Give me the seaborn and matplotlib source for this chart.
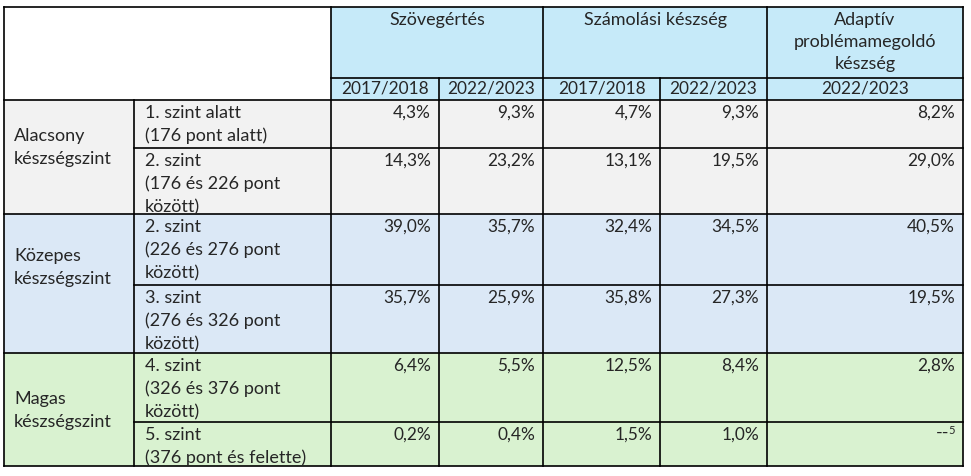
import matplotlib
matplotlib.use("Agg")
import matplotlib.pyplot as plt
import seaborn as sns
from matplotlib.patches import Rectangle

# --- data ---
skills = ["Szövegértés", "Számolási készség", "Adaptív\nproblémamegoldó\nkészség"]
years = ["2017/2018", "2022/2023", "2017/2018", "2022/2023", "2022/2023"]
groups = ["Alacsony\nkészségszint", "Közepes\nkészségszint", "Magas\nkészségszint"]
levels = [
    "1. szint alatt\n(176 pont alatt)",
    "2. szint\n(176 és 226 pont\nközött)",
    "2. szint\n(226 és 276 pont\nközött)",
    "3. szint\n(276 és 326 pont\nközött)",
    "4. szint\n(326 és 376 pont\nközött)",
    "5. szint\n(376 pont és felette)",
]
level_group = [0, 0, 1, 1, 2, 2]
szoveg_2017 = [4.3, 14.3, 39.0, 35.7, 6.4, 0.2]
szoveg_2022 = [9.3, 23.2, 35.7, 25.9, 5.5, 0.4]
szamol_2017 = [4.7, 13.1, 32.4, 35.8, 12.5, 1.5]
szamol_2022 = [9.3, 19.5, 34.5, 27.3, 8.4, 1.0]
adaptiv_2022 = [8.2, 29.0, 40.5, 19.5, 2.8, None]
missing_note = "5"

columns = [szoveg_2017, szoveg_2022, szamol_2017, szamol_2022, adaptiv_2022]

# --- layout (pixel grid) ---
W, H = 971, 476
col_edges = [4, 134, 331, 439, 543, 660, 767, 963]
head_top, head_mid, head_bot = 7, 78, 100
row_edges = [100, 148, 214, 285, 353, 422, 466]
skill_spans = [(2, 4), (4, 6), (6, 7)]
group_label_y = [136, 256, 399]
group_colors = ["#F2F2F2", "#DBE8F6", "#D9F2D0"]
header_color = "#C6EAF9"
line_step = 23
fs = 13
fs_num = 12.4

sns.set_style("white")
plt.rcParams["font.family"] = ["Lato", "DejaVu Sans"]

fig = plt.figure(figsize=(W / 100, H / 100), dpi=100)
ax = fig.add_axes([0, 0, 1, 1])
ax.set_xlim(0, W)
ax.set_ylim(H, 0)
ax.axis("off")

lw = 1.2
def hline(y, x0, x1):
    ax.plot([x0, x1], [y, y], color="black", lw=lw, solid_capstyle="projecting")
def vline(x, y0, y1):
    ax.plot([x, x], [y0, y1], color="black", lw=lw, solid_capstyle="projecting")

# header background
ax.add_patch(Rectangle((col_edges[2], head_top), col_edges[-1] - col_edges[2],
                       head_bot - head_top, color=header_color, lw=0))

# body backgrounds
for i in range(len(levels)):
    ax.add_patch(Rectangle((col_edges[0], row_edges[i]), col_edges[-1] - col_edges[0],
                           row_edges[i + 1] - row_edges[i],
                           color=group_colors[level_group[i]], lw=0))

# header text
for (a, b), name in zip(skill_spans, skills):
    xc = (col_edges[a] + col_edges[b]) / 2
    for k, line in enumerate(name.split("\n")):
        ax.text(xc, 20 + k * 22, line, ha="center", va="center", fontsize=fs)
year_cols = [2, 3, 4, 5, 6]
for c, yr in zip(year_cols, years):
    xc = (col_edges[c] + col_edges[c + 1]) / 2
    ax.text(xc, 89, yr, ha="center", va="center", fontsize=fs_num)

# group labels
for g, name in enumerate(groups):
    for k, line in enumerate(name.split("\n")):
        ax.text(col_edges[0] + 10, group_label_y[g] + k * line_step, line,
                ha="left", va="center", fontsize=fs)

# level labels and values
for i, lab in enumerate(levels):
    top = row_edges[i]
    for k, line in enumerate(lab.split("\n")):
        ax.text(col_edges[1] + 11, top + 13 + k * line_step, line,
                ha="left", va="center", fontsize=fs)
    for c, vals in zip(year_cols, columns):
        xr = col_edges[c + 1] - 8
        v = vals[i]
        if v is None:
            ax.text(xr, top + 8, missing_note, ha="right", va="center", fontsize=8)
            ax.text(xr - 6, top + 11, "--", ha="right", va="center", fontsize=fs)
        else:
            txt = f"{v:.1f}".replace(".", ",") + "%"
            ax.text(xr, top + 13, txt, ha="right", va="center", fontsize=fs_num)

# grid lines
hline(head_top, col_edges[0], col_edges[-1])
hline(head_mid, col_edges[2], col_edges[-1])
hline(head_bot, col_edges[0], col_edges[-1])
for i in range(1, len(levels)):
    if level_group[i] != level_group[i - 1]:
        hline(row_edges[i], col_edges[0], col_edges[-1])
    else:
        hline(row_edges[i], col_edges[1], col_edges[-1])
hline(row_edges[-1], col_edges[0], col_edges[-1])

for j, x in enumerate(col_edges):
    if j in (0, 2, 4, 6, 7):
        vline(x, head_top, row_edges[-1])
    elif j in (3, 5):
        vline(x, head_mid, row_edges[-1])
    else:
        vline(x, head_bot, row_edges[-1])

fig.savefig("out.png", dpi=100)
